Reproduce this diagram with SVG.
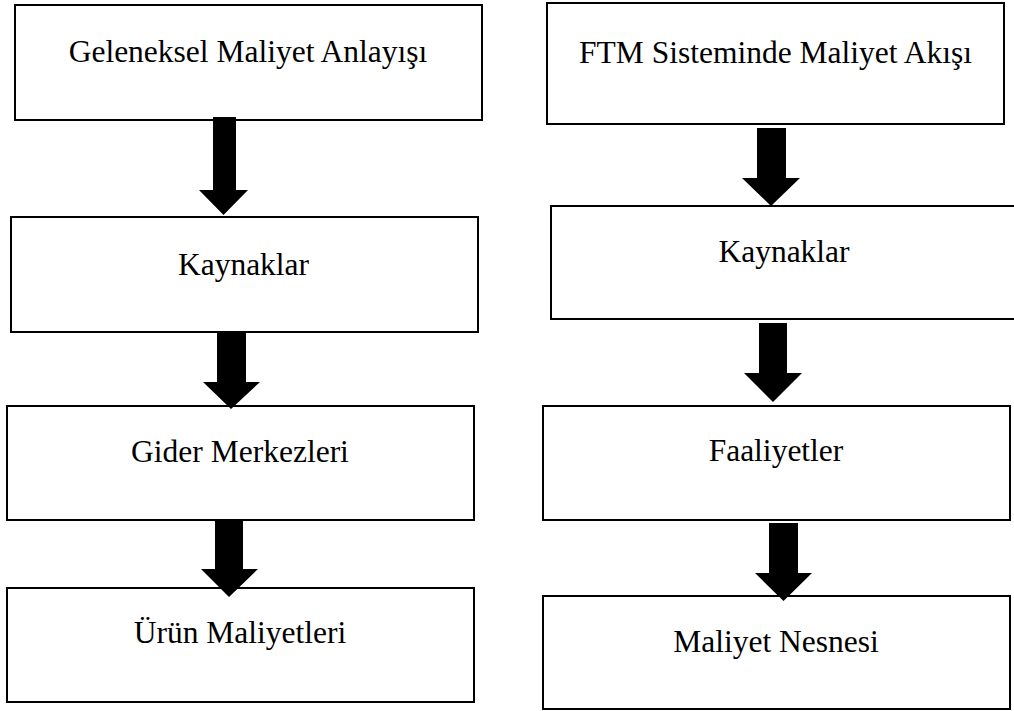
<svg xmlns="http://www.w3.org/2000/svg" width="1014" height="711" viewBox="0 0 1014 711">
<style>
.box{fill:#fff;stroke:#000;stroke-width:2}
.lbl{font-family:"Liberation Serif","Times New Roman",serif;font-size:31.5px;fill:#000;text-anchor:middle}
.arr{fill:#000;stroke:none}
</style>
<rect width="1014" height="711" fill="#fff"/>
<g id="node-geleneksel"><rect class="box" x="15" y="5" width="467" height="115"/><text class="lbl" x="248" y="62">Geleneksel Maliyet Anlayışı</text></g>
<g id="node-kaynaklar-left"><rect class="box" x="11" y="217" width="467" height="115"/><text class="lbl" x="243.5" y="275">Kaynaklar</text></g>
<g id="node-gider"><rect class="box" x="7" y="406" width="467" height="114"/><text class="lbl" x="240" y="462">Gider Merkezleri</text></g>
<g id="node-urun"><rect class="box" x="7" y="588" width="467" height="114"/><text class="lbl" x="240" y="643">Ürün Maliyetleri</text></g>
<g id="node-ftm"><rect class="box" x="547" y="3" width="457" height="121"/><text class="lbl" x="775.5" y="63">FTM Sisteminde Maliyet Akışı</text></g>
<g id="node-kaynaklar-right"><rect class="box" x="551" y="206" width="470" height="113"/><text class="lbl" x="784" y="262">Kaynaklar</text></g>
<g id="node-faaliyetler"><rect class="box" x="543" y="406" width="467" height="114"/><text class="lbl" x="776" y="461">Faaliyetler</text></g>
<g id="node-nesne"><rect class="box" x="543" y="596" width="467" height="113"/><text class="lbl" x="776" y="652">Maliyet Nesnesi</text></g>
<g id="connectors">
<polygon class="arr" points="213,117 236,117 236,190 248,190 223.5,215 199,190 213,190"/>
<polygon class="arr" points="217,331 246,331 246,382 260,382 231,409 203,382 217,382"/>
<polygon class="arr" points="215,520 243,520 243,569 258,569 229,597 201,569 215,569"/>
<polygon class="arr" points="757,128 786,128 786,178 800,178 771,206 742,178 757,178"/>
<polygon class="arr" points="759,323 787,323 787,373 802,373 773,402 744,373 759,373"/>
<polygon class="arr" points="769,523 798,523 798,573 812,573 783.5,601 755,573 769,573"/>
</g>
</svg>
